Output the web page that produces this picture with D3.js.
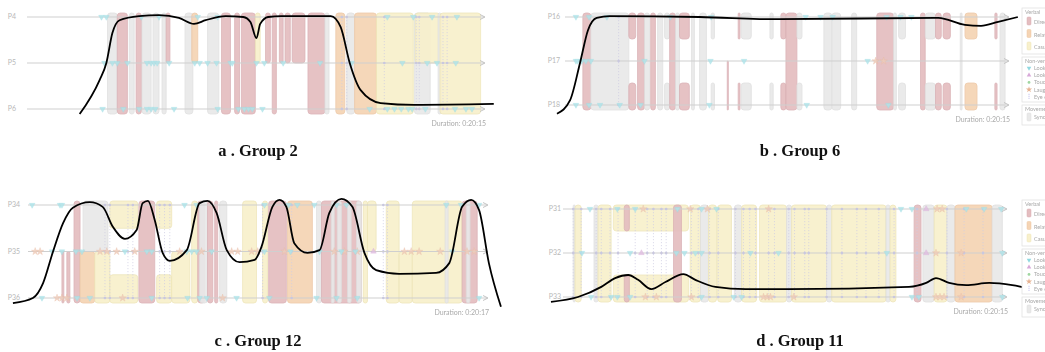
<!DOCTYPE html>
<html>
<head>
<meta charset="utf-8">
<script src="https://cdn.jsdelivr.net/npm/d3@7"></script>
<style>
  html, body { margin: 0; padding: 0; background: #fff; }
  svg { display: block; }
</style>
</head>
<body>
<svg id="chart" width="1045" height="352"></svg>
<script>
// ---------- Panel captions and session lengths ----------
const captions = ["a . Group 2", "b . Group 6", "c . Group 12", "d . Group 11"];
const durationLabels = ["0:20:15", "0:20:15", "0:20:17", "0:20:15"];
const durationSeconds = [1215, 1215, 1217, 1215];

// ---------- Participants per group ----------
const participantsA = ["P4", "P5", "P6"];
const participantsB = ["P16", "P17", "P18"];
const participantsC = ["P34", "P35", "P36"];
const participantsD = ["P31", "P32", "P33"];

// ---------- Episodes: [start s, end s, kind, participants involved] ----------
// "all" = all three, "ab" = first two, "bc" = last two, "ac" = first and last
const segmentsA = [
  [214,240,"sync","all"],[240,267,"direct","all"],[272,285,"sync","all"],[290,304,"direct","all"],
  [306,330,"sync","all"],[335,351,"sync","all"],[359,370,"sync","all"],[370,380,"direct","ab"],
  [420,441,"sync","all"],[438,454,"relational","ab"],[480,510,"sync","all"],[517,541,"direct","all"],
  [552,565,"direct","all"],[570,607,"direct","all"],[607,620,"casual","ab"],[634,647,"direct","ab"],
  [652,663,"direct","all"],[671,681,"direct","ab"],[686,700,"direct","ab"],[705,739,"direct","ab"],
  [747,792,"direct","all"],[792,803,"sync","all"],[821,845,"relational","all"],[850,871,"sync","all"],
  [871,929,"relational","all"],[929,1027,"casual","all"],[1030,1072,"sync","all"],[1032,1098,"casual","ab"],
  [1093,1101,"sync","all"],[1098,1206,"casual","all"]
];
const segmentsB = [
  [49,71,"direct","all"],[71,175,"sync","all"],[175,194,"direct","ac"],[199,218,"direct","all"],
  [218,232,"sync","all"],[235,248,"direct","all"],[254,268,"sync","all"],[273,287,"sync","ac"],
  [287,303,"direct","all"],[303,314,"sync","all"],[314,341,"direct","ac"],[347,355,"sync","all"],
  [369,388,"sync","all"],[401,410,"sync","ac"],[445,448,"direct","bc"],[475,480,"direct","ac"],
  [483,511,"sync","ac"],[562,571,"sync","ac"],[592,606,"direct","ac"],[606,636,"direct","all"],
  [636,650,"sync","ac"],[710,732,"sync","all"],[732,756,"sync","all"],[786,800,"sync","all"],
  [855,901,"direct","all"],[901,909,"sync","all"],[915,934,"sync","ac"],[975,988,"direct","all"],
  [988,1016,"sync","ac"],[1016,1032,"direct","ac"],[1037,1057,"direct","ac"],[1084,1089,"sync","all"],
  [1097,1130,"relational","ac"],[1179,1185,"direct","ac"],[1193,1207,"sync","all"]
];
const segmentsC = [
  [90,95,"direct","bc"],[103,111,"direct","bc"],[122,138,"direct","all"],[138,177,"relational","bc"],
  [146,212,"sync","ab"],[177,217,"casual","bc"],[217,291,"casual","ac"],[294,336,"direct","all"],
  [341,381,"casual","ac"],[381,429,"casual","bc"],[434,450,"casual","all"],[450,468,"direct","all"],
  [455,476,"sync","all"],[476,490,"direct","all"],[495,503,"direct","all"],[508,527,"sync","all"],
  [569,606,"casual","all"],[622,635,"casual","all"],[638,685,"direct","all"],[688,754,"relational","all"],
  [765,778,"sync","all"],[778,884,"direct","all"],[804,812,"sync","all"],[820,831,"sync","all"],
  [847,857,"sync","all"],[871,884,"sync","all"],[889,900,"casual","all"],[900,923,"casual","ab"],
  [950,984,"casual","all"],[984,1019,"casual","bc"],[1019,1151,"casual","all"],[1106,1114,"sync","all"],
  [1151,1191,"direct","all"],[1162,1172,"sync","all"]
];
const segmentsD = [
  [28,33,"sync","all"],[33,50,"casual","all"],[85,96,"sync","all"],[96,132,"casual","all"],
  [138,344,"casual","ac"],[168,182,"direct","ac"],[303,325,"direct","all"],[349,377,"casual","all"],
  [377,399,"sync","all"],[399,421,"casual","all"],[424,462,"casual","all"],[470,490,"sync","all"],
  [490,531,"casual","all"],[539,613,"casual","all"],[613,627,"sync","all"],[627,723,"casual","all"],
  [723,737,"sync","all"],[737,886,"casual","all"],[886,897,"sync","all"],[897,913,"casual","all"],
  [963,982,"direct","all"],[987,1018,"sync","all"],[1018,1053,"casual","all"],[1053,1075,"sync","all"],
  [1075,1177,"relational","all"],[1177,1205,"sync","all"]
];

// ---------- Group focus curve: [time s, level in participant rows (0 = first row)] ----------
const curveA = [
  [140,2.11],[193,1.37],[211,1.0],[227,0.35],[246,0.07],[298,-0.02],[351,-0.04],[404,0.02],
  [444,0.15],[475,0.07],[528,-0.02],[575,0.0],[594,0.11],[610,0.46],[620,0.15],[641,0.0],
  [676,-0.02],[808,-0.02],[834,0.22],[858,1.0],[887,1.59],[940,1.87],[1030,1.91],[1241,1.89]
];
const curveB = [
  [-22,2.2],[14,1.89],[41,1.05],[63,0.3],[87,0.02],[123,-0.02],[369,0.0],[587,0.05],
  [1024,0.02],[1097,0.18],[1141,0.2],[1188,0.11],[1242,0.0]
];
const curveC = [
  [-40,2.11],[13,2.0],[40,1.68],[66,1.01],[93,0.39],[119,0.06],[164,-0.06],[198,0.04],
  [225,0.47],[257,0.73],[288,0.54],[304,-0.04],[318,-0.09],[336,0.32],[357,1.03],[376,1.2],
  [421,0.97],[455,-0.04],[476,-0.09],[500,0.17],[527,0.97],[561,1.23],[601,1.18],[619,0.9],
  [648,0.04],[667,-0.11],[685,0.04],[706,0.82],[741,1.03],[773,0.97],[799,0.17],[831,-0.13],
  [860,0.04],[892,1.03],[923,1.4],[984,1.48],[1082,1.46],[1117,1.25],[1151,0.04],[1175,-0.11],
  [1196,0.11],[1222,1.25],[1254,2.19]
];
const curveD = [
  [-33,2.11],[41,2.0],[105,1.77],[143,1.57],[179,1.5],[206,1.61],[242,1.82],[281,1.66],
  [330,1.48],[363,1.61],[418,1.77],[501,1.82],[619,1.82],[949,1.77],[996,1.68],[1023,1.57],
  [1059,1.68],[1106,1.73],[1169,1.68],[1232,1.73],[1284,1.82]
];

// ---------- Non-verbal cues, per participant row (times in s) ----------
const lookDownA = [
  [198,211,304,351,454,507,958,1027,1077,1143],
  [206,227,240,267,319,330,338,346,378,446,459,480,504,541,546,610,631,681,779,863,998,1064,1090,1140],
  [201,256,298,319,330,341,391,507,562,578,589,599,626,911,958,977,995,1014,1024,1059,1138,1167,1183]
];
const lookUpA = [[], [], []];
const laughA = [[], [], []];
const eyeContactA = [837,850,950,1035,1043,1106,1117];

const lookDownB = [
  [30,66,115,289,401,660,701,734,882,920,950],
  [30,35,46,57,71,218,399,491,830],
  [30,66,96,150,207,396,663,887]
];
const lookUpB = [[], [], []];
const laughB = [[], [852,874], []];
const eyeContactB = [147];

const lookDownC = [
  [11,85,90,415,447,627,691,714,759,818,844,1109,1148,1196],
  [64,90,127,143,257,315,328,421,434,447,487,627,696,773,831,868,1125],
  [37,130,164,328,423,455,474,553,640,765,818,873,1196]
];
const lookUpC = [[], [916], []];
const laughC = [
  [],
  [19,32,191,209,235,283,402,460,540,556,593,609,680,812,839,873,998,1016,1037,1093,1164,1183],
  [77,90,103,251,516]
];
const eyeContactC = [204,217,265,278,349,362,376,622,699,942,953];

const lookDownD = [
  [74,149,198,314,380,421,927,957,1106,1155,1202],
  [52,184,311,333,363,380,514,591,888,1205],
  [77,132,149,184,380,468,490,957,976,1205]
];
const lookUpD = [[996], [215,996], []];
const laughD = [
  [220,349,396,564,1026,1040],
  [1023,1092],
  [226,256,352,550,560,569,633,1023,1034,1045,1092]
];
const eyeContactD = [28,50,91,105,129,151,198,231,248,270,283,352,371,402,426,473,495,512,528,
  564,580,619,635,663,674,723,765,806,831,866,908,971,1053,1100,1152];

// ---------- Legend entries ----------
const legendVerbal = ["Direct", "Relational", "Casual"];
const legendNonVerbal = ["Look down", "Look up", "Touch", "Laugh", "Eye contact"];
const legendMovement = ["Synchrony"];

// ---------- Styling ----------
const fillOf = { direct: "#e4bdc0", relational: "#f5d4b4", casual: "#f8f0cc", sync: "#e9e9e9" };
const strokeOf = { direct: "#d9aeb2", relational: "#ecc7a3", casual: "#eee4b6", sync: "#dedede" };
const SANS = "Lato, 'Open Sans', sans-serif";

const svg = d3.select("#chart");

const panels = [
  { caption: captions[0], rows: participantsA, segs: segmentsA, curve: curveA,
    down: lookDownA, up: lookUpA, laugh: laughA, eye: eyeContactA,
    dur: durationLabels[0], secs: durationSeconds[0],
    x0: 27, x1: 484, rowY: [17, 63, 109], labelX: 16, cx: 258, cy: 156, legendY: null },
  { caption: captions[1], rows: participantsB, segs: segmentsB, curve: curveB,
    down: lookDownB, up: lookUpB, laugh: laughB, eye: eyeContactB,
    dur: durationLabels[1], secs: durationSeconds[1],
    x0: 565, x1: 1008, rowY: [17, 61, 105], labelX: 560, cx: 800, cy: 156, legendY: 8 },
  { caption: captions[2], rows: participantsC, segs: segmentsC, curve: curveC,
    down: lookDownC, up: lookUpC, laugh: laughC, eye: eyeContactC,
    dur: durationLabels[2], secs: durationSeconds[2],
    x0: 28, x1: 487, rowY: [205, 251.5, 298], labelX: 20, cx: 258, cy: 346, legendY: null },
  { caption: captions[3], rows: participantsD, segs: segmentsD, curve: curveD,
    down: lookDownD, up: lookUpD, laugh: laughD, eye: eyeContactD,
    dur: durationLabels[3], secs: durationSeconds[3],
    x0: 563, x1: 1006, rowY: [209, 253, 297], labelX: 561, cx: 800, cy: 346, legendY: 200 }
];

panels.forEach(p => {
  const g = svg.append("g");
  const x = d3.scaleLinear().domain([0, p.secs]).range([p.x0, p.x1]);
  const y = d3.scaleLinear().domain([0, 2]).range([p.rowY[0], p.rowY[2]]);
  const [r0, r1, r2] = p.rowY;
  const half = (r2 - r0) / 4;
  const padT = 4, padB = 5;

  const spans = code => ({
    all: [[r0 - padT, r2 + padB]],
    ab: [[r0 - padT, r1]],
    bc: [[r1, r2 + padB]],
    ac: [[r0 - padT, r0 + half], [r1 + half, r2 + padB]]
  })[code];

  // episode bars
  const pieces = [];
  p.segs.forEach(s => spans(s[3]).forEach(([top, bot]) =>
    pieces.push({ t0: s[0], t1: s[1], kind: s[2], top, bot })));
  g.append("g").selectAll("rect").data(pieces).join("rect")
    .attr("x", d => x(d.t0))
    .attr("width", d => Math.max(1, x(d.t1) - x(d.t0)))
    .attr("y", d => d.top)
    .attr("height", d => d.bot - d.top)
    .attr("rx", d => Math.min(3, (x(d.t1) - x(d.t0)) / 2))
    .attr("fill", d => fillOf[d.kind])
    .attr("stroke", d => strokeOf[d.kind])
    .attr("stroke-width", 0.8)
    .attr("opacity", 0.92);

  // eye contact: dotted links across participants
  const eg = g.append("g");
  eg.selectAll("line").data(p.eye).join("line")
    .attr("x1", d => x(d)).attr("x2", d => x(d))
    .attr("y1", r0).attr("y2", r2)
    .attr("stroke", "#cfcde3").attr("stroke-width", 0.7)
    .attr("stroke-dasharray", "1.2,1.8");

  // participant timelines
  const lg = g.append("g");
  p.rowY.forEach((ry, i) => {
    lg.append("line")
      .attr("x1", x.range()[0]).attr("x2", x.range()[1])
      .attr("y1", ry).attr("y2", ry)
      .attr("stroke", "#cfcfcf").attr("stroke-width", 1);
    lg.append("path")
      .attr("d", `M${x.range()[1] - 4},${ry - 2.5}L${x.range()[1] + 1},${ry}L${x.range()[1] - 4},${ry + 2.5}`)
      .attr("fill", "none").attr("stroke", "#bdbdbd").attr("stroke-width", 0.9);
    lg.append("text")
      .attr("x", p.labelX).attr("y", ry).attr("dy", "0.35em")
      .attr("text-anchor", "end")
      .attr("font-family", SANS).attr("font-size", 7)
      .attr("fill", "#b8b8b8")
      .text(p.rows[i]);
  });

  // eye contact dots on each timeline
  const eyeDots = [];
  p.eye.forEach(t => p.rowY.forEach(ry => eyeDots.push({ t, ry })));
  eg.selectAll("circle").data(eyeDots).join("circle")
    .attr("cx", d => x(d.t)).attr("cy", d => d.ry).attr("r", 1.3)
    .attr("fill", "#c3c0ee");

  // non-verbal glyphs
  const mk = g.append("g").attr("opacity", 0.8);
  const flat = (arr, kind) => arr.flatMap((times, i) => times.map(t => ({ t, ry: p.rowY[i], kind })));
  const glyphs = [...flat(p.laugh, "laugh"), ...flat(p.up, "up"), ...flat(p.down, "down")];
  const triangle = d3.symbol().type(d3.symbolTriangle).size(14);
  const star = d3.symbol().type(d3.symbolStar).size(17);
  mk.selectAll("path").data(glyphs).join("path")
    .attr("d", d => d.kind === "laugh" ? star() : triangle())
    .attr("transform", d => `translate(${x(d.t)},${d.ry})` + (d.kind === "down" ? " rotate(180)" : ""))
    .attr("fill", d => d.kind === "down" ? "#ade4ea" : d.kind === "up" ? "#e0bde1" : "#efcbb8")
    .attr("stroke", d => d.kind === "down" ? "#98d8e0" : d.kind === "up" ? "#d3aad4" : "#e6b9a2")
    .attr("stroke-width", 0.4);

  // group focus curve
  const line = d3.line()
    .x(d => x(d[0]))
    .y(d => y(d[1]))
    .curve(d3.curveMonotoneX);
  g.append("path")
    .datum(p.curve)
    .attr("d", line)
    .attr("fill", "none")
    .attr("stroke", "#000")
    .attr("stroke-width", 1.8);

  // duration note
  g.append("text")
    .attr("x", x.range()[1] + 2).attr("y", r2 + 17)
    .attr("text-anchor", "end")
    .attr("font-family", SANS).attr("font-size", 7)
    .attr("fill", "#aaaaaa")
    .text("Duration: " + p.dur);

  // caption
  svg.append("text")
    .attr("x", p.cx).attr("y", p.cy)
    .attr("text-anchor", "middle")
    .attr("font-family", "'Liberation Serif', 'DejaVu Serif', serif")
    .attr("font-weight", "bold")
    .attr("font-size", 16.5)
    .attr("fill", "#111")
    .text(p.caption);

  if (p.legendY !== null) drawLegend(1022, p.legendY);
});

function drawLegend(ox, oy) {
  const L = svg.append("g").attr("transform", `translate(${ox},${oy})`);
  const txt = (sel, tx, ty, s) => sel.append("text")
    .attr("x", tx).attr("y", ty)
    .attr("font-family", SANS).attr("font-size", 5.5)
    .attr("fill", "#a8a8a8").text(s);
  const box = (top, h, title) => {
    L.append("rect").attr("x", 0).attr("y", top).attr("width", 40).attr("height", h)
      .attr("fill", "#fff").attr("stroke", "#e2e2e2").attr("stroke-width", 0.8);
    txt(L, 3, top + 6, title);
  };

  box(0, 46, "Verbal");
  const vKinds = ["direct", "relational", "casual"];
  legendVerbal.forEach((s, i) => {
    L.append("rect").attr("x", 5).attr("y", 9 + i * 12.5).attr("width", 4).attr("height", 8)
      .attr("rx", 1).attr("fill", fillOf[vKinds[i]]).attr("stroke", strokeOf[vKinds[i]]).attr("stroke-width", 0.5);
    txt(L, 12, 16 + i * 12.5, s);
  });

  box(49, 45, "Non-verbal");
  const tri = d3.symbol().type(d3.symbolTriangle).size(9);
  const st = d3.symbol().type(d3.symbolStar).size(12);
  legendNonVerbal.forEach((s, i) => {
    const cy = 60 + i * 7.2;
    if (i === 0) L.append("path").attr("d", tri()).attr("transform", `translate(7,${cy}) rotate(180)`).attr("fill", "#8fd8e0");
    if (i === 1) L.append("path").attr("d", tri()).attr("transform", `translate(7,${cy})`).attr("fill", "#d8a9d9");
    if (i === 2) L.append("circle").attr("cx", 7).attr("cy", cy).attr("r", 1.4).attr("fill", "#9fd6a0");
    if (i === 3) L.append("path").attr("d", st()).attr("transform", `translate(7,${cy})`).attr("fill", "#e6b191");
    if (i === 4) {
      L.append("line").attr("x1", 7).attr("x2", 7).attr("y1", cy - 3).attr("y2", cy + 3)
        .attr("stroke", "#a9a4e6").attr("stroke-width", 0.8).attr("stroke-dasharray", "1,1");
    }
    txt(L, 12, cy + 2, s);
  });

  box(97, 20, "Movement");
  legendMovement.forEach((s, i) => {
    L.append("rect").attr("x", 5).attr("y", 105 + i * 10).attr("width", 4).attr("height", 8)
      .attr("rx", 1).attr("fill", fillOf.sync).attr("stroke", strokeOf.sync).attr("stroke-width", 0.5);
    txt(L, 12, 111 + i * 10, s);
  });
}
</script>
</body>
</html>
